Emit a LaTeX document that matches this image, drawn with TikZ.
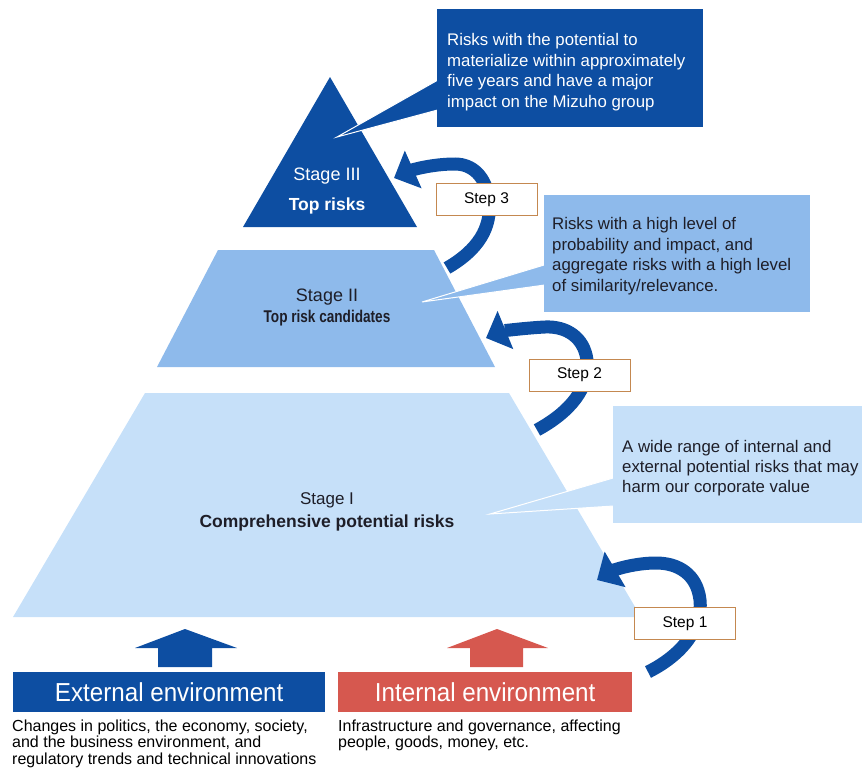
\documentclass[tikz,border=0pt]{standalone}
\usepackage{fontspec}
\setmainfont{Liberation Sans}
\usetikzlibrary{arrows.meta}
\definecolor{dblue}{RGB}{13,78,162}
\definecolor{mblue}{RGB}{142,186,235}
\definecolor{lblue}{RGB}{198,224,249}
\definecolor{ired}{RGB}{214,88,79}
\definecolor{stepframe}{RGB}{196,136,80}
\definecolor{txt}{RGB}{30,30,40}
\newcommand\fsz[2]{\fontsize{#1}{#2}\selectfont}
\begin{document}
\begin{tikzpicture}[x=1pt,y=-1pt,
  stepbox/.style={draw=stepframe,line width=0.8pt,fill=white,minimum width=101pt,minimum height=32pt,inner sep=0pt,font=\fsz{15.5}{17}},
  cyclearrow/.style={draw=dblue,line width=13pt,-{Triangle[width=40pt,length=21pt]}},
  calltext/.style={anchor=north west,inner sep=0pt,align=left},
  callbox/.style={anchor=north west,inner sep=0pt,draw=none},
  wedge/.style={draw=white,line width=1pt,line join=miter},
  stagetext/.style={anchor=base,inner sep=0pt},
  envbox/.style={anchor=north west,inner sep=0pt,minimum height=40pt,text=white,font=\fsz{26}{28}},
]
\useasboundingbox (0,0) rectangle (865,771);

% ---- stages ----
\fill[lblue] (145,393) -- (509,393) -- (641,617) -- (13,617) -- cycle;
\fill[mblue] (218,250) -- (434,250) -- (495,367) -- (157,367) -- cycle;
\fill[dblue] (330,77) -- (417,227) -- (243,227) -- cycle;

\node[stagetext,text=white,font=\fsz{18}{20}] (s3a) at (327,180) {Stage III};
\node[stagetext,text=white,font=\bfseries\fsz{17.5}{20}] (s3b) at (327,210) {Top risks};
\node[stagetext,text=txt,font=\fsz{18}{20}] (s2a) at (327,301.7) {Stage II};
\node[stagetext,text=txt,font=\bfseries\fsz{17}{18}] (s2b) at (327,322.7) {\scalebox{0.8}[1]{Top risk candidates}};
\node[stagetext,text=txt,font=\fsz{17}{20}] (s1a) at (327,504) {Stage I};
\node[stagetext,text=txt,font=\bfseries\fsz{17.5}{20}] (s1b) at (327,527.3) {Comprehensive potential risks};

% ---- callouts ----
\coordinate (t3) at (337,137);
\coordinate (t2) at (422,302);
\coordinate (t1) at (490,514);
\filldraw[wedge,fill=dblue] (t3) -- (445,76) -- (445,108) -- cycle;
\filldraw[wedge,fill=mblue] (t2) -- (552,262.6) -- (552,284) -- cycle;
\filldraw[wedge,fill=lblue] (t1) -- (621,475.7) -- (621,505.5) -- cycle;

\node[callbox,fill=dblue,minimum width=266pt,minimum height=118pt] (c3) at (437,9) {};
\node[callbox,fill=mblue,minimum width=266pt,minimum height=117pt] (c2) at (544,195) {};
\node[callbox,fill=lblue,minimum width=249pt,minimum height=117pt] (c1) at (613,406) {};

\node[calltext,text=white,font=\fsz{16.8}{20.7}] (c3t) at (447,33)
  {Risks with the potential to\\materialize within approximately\\five years and have a major\\impact on the Mizuho group};
\node[calltext,text=txt,font=\fsz{16.8}{20.6}] (c2t) at (552,217.3)
  {Risks with a high level of\\probability and impact, and\\aggregate risks with a high level\\of similarity/relevance.};
\node[calltext,text=txt,font=\fsz{16.8}{20.2}] (c1t) at (622,440)
  {A wide range of internal and\\external potential risks that may\\harm our corporate value};

% ---- cycle arrows ----
\draw[cyclearrow] (447,268) .. controls (478,250) and (492,228) .. (489,200)
  .. controls (486,176) and (472,164) .. (455,164)
  .. controls (432,164) and (412,170) .. (394,178);
\draw[cyclearrow] (537,430) .. controls (570,412) and (590,388) .. (587,360)
  .. controls (584,337) and (566,326) .. (545,327)
  .. controls (525,328) and (503,331) .. (486,338);
\draw[cyclearrow] (648,672) .. controls (682,655) and (703,628) .. (700,600)
  .. controls (697,574) and (678,563) .. (656,563)
  .. controls (634,563) and (614,570) .. (597,580);

\node[stepbox] (st3) at (486.5,199.5) {Step 3};
\node[stepbox] (st2) at (579.5,375) {Step 2};
\node[stepbox] (st1) at (685,623.5) {Step 1};

% ---- environment ----
\fill[dblue] (185,629) -- (237,648) -- (212,648) -- (212,667) -- (158,667) -- (158,648) -- (135,648) -- cycle;
\fill[ired] (497,629) -- (548,648) -- (523,648) -- (523,667) -- (470,667) -- (470,648) -- (447,648) -- cycle;

\node[envbox,fill=dblue,minimum width=312pt] (ext) at (13,672) {\scalebox{0.93}[1]{External environment}};
\node[envbox,fill=ired,minimum width=294pt] (int) at (338,672) {\scalebox{0.93}[1]{Internal environment}};

\node[calltext,text=black,font=\fsz{16}{16.6}] (extt) at (12,719.2)
  {Changes in politics, the economy, society,\\and the business environment, and\\regulatory trends and technical innovations};
\node[calltext,text=black,font=\fsz{16}{16.6}] (intt) at (338,719.2)
  {Infrastructure and governance, affecting\\people, goods, money, etc.};
\end{tikzpicture}
\end{document}
